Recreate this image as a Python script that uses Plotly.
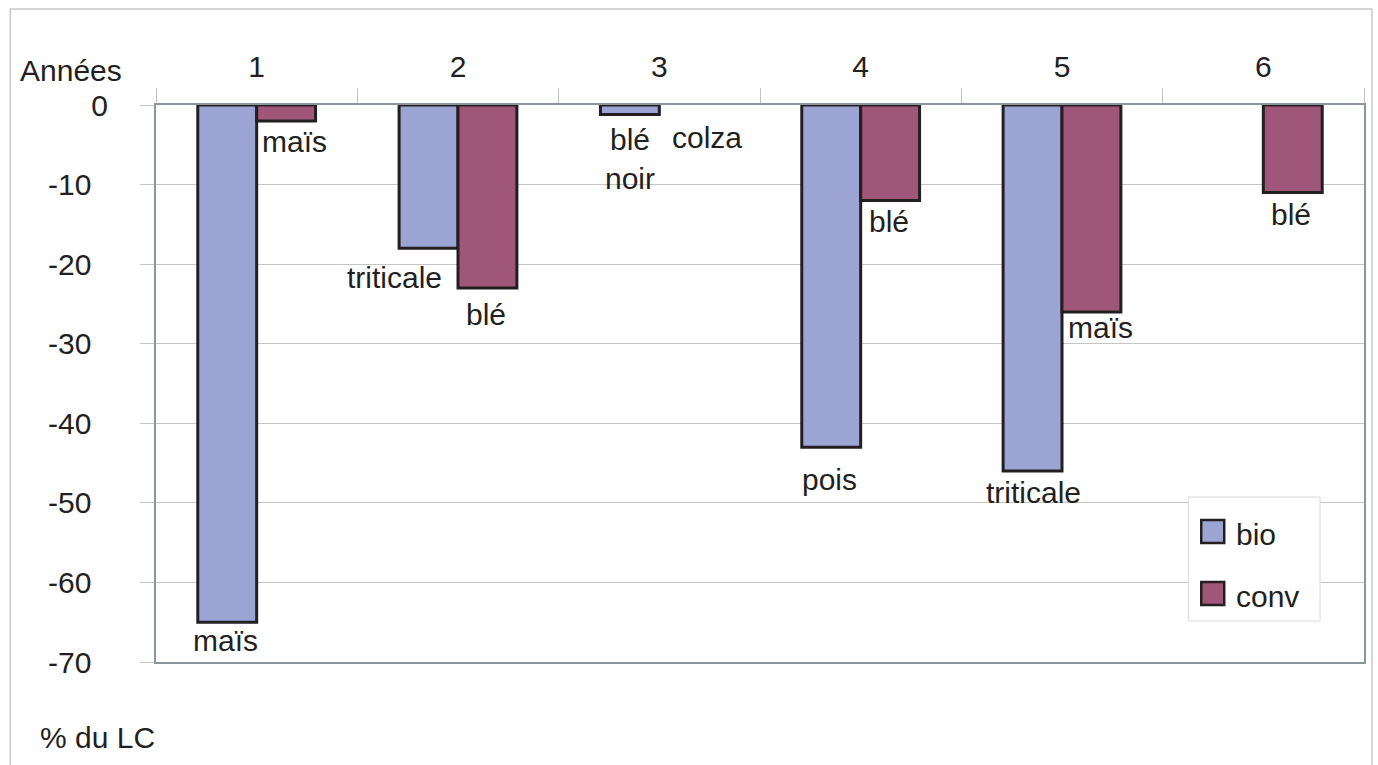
import plotly.graph_objects as go

# Yearly yield change relative to the control (% du LC), organic vs conventional
years = ["1", "2", "3", "4", "5", "6"]
bio = [-65, -18, -1.2, -43, -46, None]
conv = [-2, -23, None, -12, -26, -11]
bio_crops = ["maïs", "triticale", "blé<br>noir", "pois", "triticale", None]
conv_crops = ["maïs", "blé", "colza", "blé", "maïs", "blé"]
y_ticks = [-70, -60, -50, -40, -30, -20, -10, 0]

# label nudges in pixels: (dx from bar centre, dy from bar end to text middle)
bio_label_nudge = [(-2, 18), (-34, 29), (0, 44), (-2, 32), (1, 21), (0, 0)]
conv_label_nudge = [(8, 21), (-1, 26), (18, 32), (-1, 21), (9, 16), (-2, 22)]

# layout geometry (pixels)
W, H = 1378, 765
ML, MR, MT, MB = 156, 12, 105, 103
PW, PH = W - ML - MR, H - MT - MB
BARGAP = 0.415

BIO_COLOR = "#9CA4D4"
CONV_COLOR = "#A05678"
EDGE = "#231F20"
AXIS_GREY = "#8C959C"
GRID_GREY = "#C4C4C4"
FONT = "Liberation Sans, Arial, sans-serif"
FS = 30


def px_x(px):
    return (px - ML) / PW


def px_y(py):
    return (H - MB - py) / PH


fig = go.Figure()
fig.add_trace(go.Bar(x=years, y=bio, name="bio", marker=dict(color=BIO_COLOR, line=dict(color=EDGE, width=3)),
                     showlegend=False, hoverinfo="x+y+name"))
fig.add_trace(go.Bar(x=years, y=conv, name="conv", marker=dict(color=CONV_COLOR, line=dict(color=EDGE, width=3)),
                     showlegend=False, hoverinfo="x+y+name"))

# crop names under each bar (x given as category index)
bar_w = PW / len(years) * (1 - BARGAP) / 2
annotations = []
for values, crops, nudges, side in ((bio, bio_crops, bio_label_nudge, -1), (conv, conv_crops, conv_label_nudge, 1)):
    for i, (v, crop, (dx, dy)) in enumerate(zip(values, crops, nudges)):
        if crop is None:
            continue
        annotations.append(dict(
            x=i, y=v if v is not None else 0, xref="x", yref="y",
            text=crop, showarrow=False, xanchor="center", yanchor="middle",
            xshift=side * bar_w / 2 + dx, yshift=-dy,
            font=dict(family=FONT, size=FS, color=EDGE)))

annotations.append(dict(x=px_x(18), y=px_y(70), xref="paper", yref="paper", text="Années",
                        showarrow=False, xanchor="left", yanchor="middle",
                        font=dict(family=FONT, size=FS, color=EDGE)))
annotations.append(dict(x=px_x(38), y=px_y(737), xref="paper", yref="paper", text="% du LC",
                        showarrow=False, xanchor="left", yanchor="middle",
                        font=dict(family=FONT, size=FS, color=EDGE)))

# legend drawn as a boxed key
shapes = [
    dict(type="rect", xref="paper", yref="paper", x0=px_x(10), x1=px_x(1374), y0=px_y(800), y1=px_y(9),
         line=dict(color="#C8C8C8", width=1.5), fillcolor="rgba(0,0,0,0)", layer="below"),
    dict(type="rect", xref="paper", yref="paper", x0=px_x(1190), x1=px_x(1322), y0=px_y(621), y1=px_y(497),
         line=dict(color="#D8D8D8", width=1), fillcolor="white", layer="above"),
]
for name, color, cy in (("bio", BIO_COLOR, 531.5), ("conv", CONV_COLOR, 593.5)):
    shapes.append(dict(type="rect", xref="paper", yref="paper", x0=px_x(1203), x1=px_x(1226),
                       y0=px_y(cy + 11.5), y1=px_y(cy - 11.5),
                       line=dict(color=EDGE, width=2.5), fillcolor=color, layer="above"))
    annotations.append(dict(x=px_x(1236), y=px_y(cy + 3), xref="paper", yref="paper", text=name,
                            showarrow=False, xanchor="left", yanchor="middle",
                            font=dict(family=FONT, size=FS, color=EDGE)))

y_text = [str(t) if t == 0 else str(t) + "\u00a0\u00a0" for t in y_ticks]

fig.update_layout(
    width=W, height=H,
    margin=dict(l=ML, r=MR, t=MT, b=MB, pad=0),
    paper_bgcolor="white", plot_bgcolor="white",
    barmode="group", bargap=BARGAP, bargroupgap=0,
    font=dict(family=FONT, size=FS, color=EDGE),
    annotations=annotations, shapes=shapes,
    xaxis=dict(type="category", side="top", showgrid=False, tickson="boundaries",
               range=[-0.5, len(years) - 0.5],
               ticks="outside", ticklen=15, tickcolor=GRID_GREY, tickwidth=1,
               showline=True, linecolor=AXIS_GREY, linewidth=2, mirror=True,
               tickfont=dict(family=FONT, size=FS, color=EDGE), ticklabelstandoff=14),
    yaxis=dict(range=[-70, 0], tickvals=y_ticks, ticktext=y_text, showgrid=True,
               gridcolor=GRID_GREY, gridwidth=1, zeroline=False,
               ticks="outside", ticklen=14, tickcolor=GRID_GREY, tickwidth=1,
               showline=True, linecolor=AXIS_GREY, linewidth=2, mirror=True,
               tickfont=dict(family=FONT, size=FS, color=EDGE), ticklabelstandoff=26),
)

fig.write_html("out.html")
